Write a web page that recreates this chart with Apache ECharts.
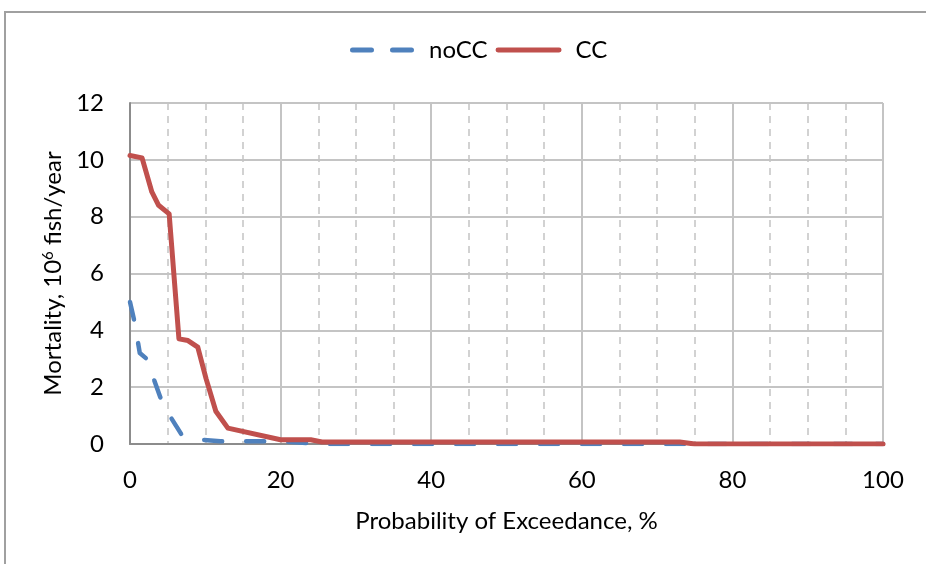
<!DOCTYPE html>
<html><head><meta charset="utf-8">
<script src="https://cdn.jsdelivr.net/npm/echarts@6/dist/echarts.min.js"></script>
<style>html,body{margin:0;padding:0;background:#fff}#c{width:926px;height:564px}</style>
</head><body><div id="c"></div>
<script>
// Probability of exceedance (%) and mortality (10^6 fish/year)
const ccX  = [0, 1.6, 2.9, 3.8, 5.2, 6.5, 7.7, 9.0, 10.1, 11.4, 13.0, 20.0, 24.0, 25.5, 73.0, 75.0, 100];
const ccY  = [10.15, 10.07, 8.87, 8.4, 8.1, 3.7, 3.64, 3.41, 2.3, 1.15, 0.56, 0.15, 0.15, 0.07, 0.07, 0.0, 0.0];
const noccX = [0, 0.6, 1.3, 2.2, 4.0, 5.5, 6.8, 9.4, 12.0, 20.0, 25.0, 100];
const noccY = [5.0, 4.3, 3.2, 3.0, 1.66, 0.9, 0.35, 0.15, 0.1, 0.1, 0.0, 0.0];
const seriesNames = ['noCC', 'CC'];
const xTicks = [0, 20, 40, 60, 80, 100];
const yTicks = [0, 2, 4, 6, 8, 10, 12];

const font = 'Lato, "Open Sans", sans-serif';
const FS = 24;
const chart = echarts.init(document.getElementById('c'), null, {renderer: 'canvas'});
chart.setOption({
  animation: false,
  backgroundColor: '#fff',
  graphic: [{
    type: 'rect', shape: {x: 5, y: 12, width: 940, height: 600},
    style: {fill: 'none', stroke: '#a0a0a0', lineWidth: 2}, silent: true, z: -10
  }],
  legend: {
    top: 33, left: 345, itemWidth: 66, itemHeight: 5, itemGap: 8,
    textStyle: {fontFamily: font, fontSize: FS, color: '#000', padding: [0, 0, 0, 9]},
    data: [
      {name: seriesNames[0], icon: 'path://M2,0h19a2,2 0 0 1 0,5h-19a2,2 0 0 1 0,-5z M42,0h19a2,2 0 0 1 0,5h-19a2,2 0 0 1 0,-5z'},
      {name: seriesNames[1], icon: 'path://M2,0h62a2,2 0 0 1 0,5h-62a2,2 0 0 1 0,-5z'}
    ]
  },
  grid: {left: 130, right: 43, top: 103, bottom: 120},
  xAxis: {
    type: 'value', min: xTicks[0], max: xTicks[xTicks.length - 1], interval: 20,
    name: 'Probability of Exceedance, %', nameLocation: 'middle', nameGap: 65,
    nameTextStyle: {fontFamily: font, fontSize: FS, color: '#000'},
    axisLine: {show: true, lineStyle: {color: '#8c8c8c', width: 2}},
    axisTick: {show: false},
    axisLabel: {fontFamily: font, fontSize: FS, color: '#000', margin: 24},
    splitLine: {show: true, lineStyle: {color: '#c4c4c4', width: 2}},
    minorTick: {show: false, splitNumber: 4},
    minorSplitLine: {show: true, lineStyle: {color: '#c4c4c4', width: 1.5, type: [7, 6]}}
  },
  yAxis: {
    type: 'value', min: yTicks[0], max: yTicks[yTicks.length - 1], interval: 2,
    name: '{a|Mortality, 10}{s|6}{a| fish/year}', nameLocation: 'middle', nameGap: 58,
    nameTextStyle: {
      fontFamily: font, fontSize: FS, color: '#000',
      rich: {
        a: {fontFamily: font, fontSize: FS, color: '#000'},
        s: {fontFamily: font, fontSize: 15, color: '#000', verticalAlign: 'top', padding: [0, 0, 10, 0]}
      }
    },
    axisLine: {show: true, lineStyle: {color: '#8c8c8c', width: 2}},
    axisTick: {show: false},
    axisLabel: {fontFamily: font, fontSize: FS, color: '#000', margin: 26},
    splitLine: {show: true, lineStyle: {color: '#c4c4c4', width: 2}}
  },
  series: [
    {
      name: seriesNames[0], type: 'line', symbol: 'none', z: 2,
      data: noccX.map((x, i) => [x, noccY[i]]),
      lineStyle: {color: '#4f81bd', width: 4.5, type: [18, 24], cap: 'round', join: 'round'},
      itemStyle: {color: '#4f81bd'}
    },
    {
      name: seriesNames[1], type: 'line', symbol: 'none', z: 3,
      data: ccX.map((x, i) => [x, ccY[i]]),
      lineStyle: {color: '#c0504d', width: 5, cap: 'round', join: 'round'},
      itemStyle: {color: '#c0504d'}
    }
  ]
});
</script></body></html>
